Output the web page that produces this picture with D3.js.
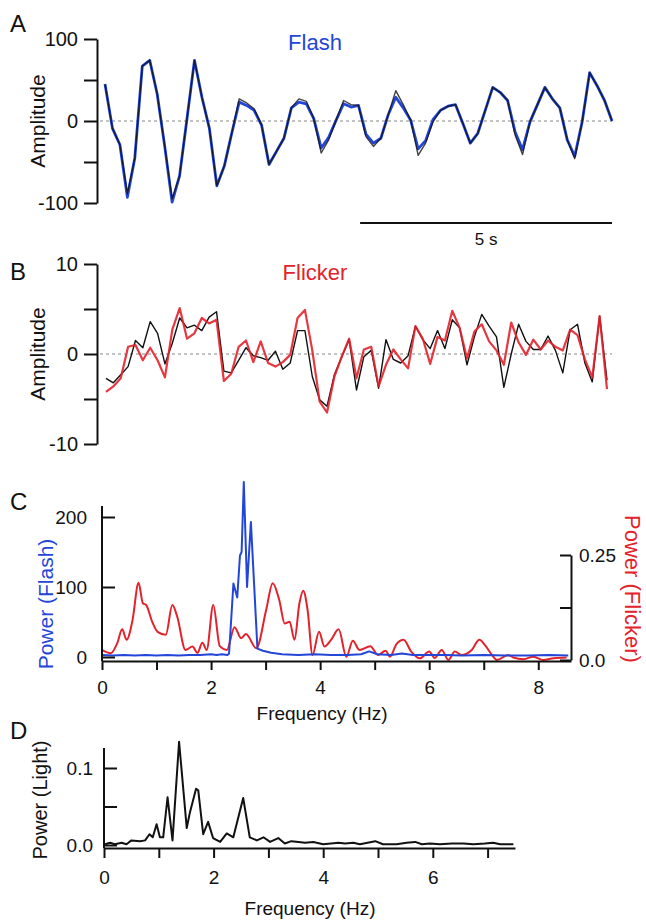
<!DOCTYPE html>
<html>
<head>
<meta charset="utf-8">
<script src="https://cdn.jsdelivr.net/npm/d3@7"></script>
<style>
  body { margin: 0; background: #fff; }
  svg text { font-family: Arial, "Liberation Sans", sans-serif; }
</style>
</head>
<body>
<div id="chart"></div>
<script>
const width = 646;
const height = 920;
const blue = "#2346d8";
const red = "#e3222b";
const ink = "#111";
const font = 'Arial, "Liberation Sans", sans-serif';

// A: flash response, one sample every 0.148 s
const sampleInterval = 0.148;
const flashBlue = [45, -9, -29, -93, -45, 67, 74, 33, -30, -99, -67, 3, 74, 29, -9, -79, -55, -15, 23, 19,
  13, -5, -53, -37, -21, 16, 23, 21, 3, -33, -20, 1, 21, 17, 19, -16, -27, -21, 8, 29,
  16, 1, -34, -24, 2, 13, 18, 20, -3, -27, -15, 13, 41, 35, 25, -13, -35, -1, 20, 41,
  27, 16, -23, -43, -1, 59, 43, 25, 0];
const flashBlack = [45, -9, -29, -89, -45, 67, 74, 33, -30, -95, -67, 3, 74, 29, -9, -79, -55, -15, 27, 22,
  15, -5, -53, -37, -21, 16, 27, 24, 3, -39, -23, 1, 25, 20, 19, -19, -31, -21, 8, 37,
  20, 1, -42, -27, -1, 13, 18, 20, -3, -27, -15, 13, 41, 35, 25, -17, -41, -1, 20, 41,
  27, 16, -23, -46, -1, 59, 43, 25, 0];

// B: flicker response
const flickerRed = [-4.2, -3.6, -2.7, 0.8, 1.0, -0.7, 0.7, -0.7, -2.6, 2.7, 5.1, 1.7, 2.3, 4.0, 3.4, 3.8, -3.0, -2.2, 0.8, 1.5,
  -0.9, 1.4, -1.0, -1.4, -0.9, -0.1, 4.0, 4.9, 0.4, -5.3, -6.5, -2.5, -0.3, 1.7, -2.7, 0.5, 0.8, -3.6, -1.2, 0.5,
  -0.6, -1.6, 3.1, 1.7, -1.1, 1.9, 1.5, 4.8, 2.9, -0.5, 2.5, 3.3, 1.4, 0.4, -1.2, 3.5, 1.3, -0.1, 1.6, 0.5,
  1.5, 0.8, 0.4, 2.7, 2.1, -0.6, -2.6, 4.2, -3.9];
const flickerBlack = [-2.7, -3.2, -2.3, -1.4, 1.5, 0.7, 3.6, 2.3, -1.1, 1.2, 4.0, 2.9, 3.2, 2.6, 4.1, 4.7, -1.9, -2.1, -0.7, 0.7,
  -0.2, -0.4, -0.7, 0.3, -1.7, -1.0, 2.6, 2.6, -2.5, -5.1, -5.8, -2.3, -0.3, 1.6, -4.0, -0.3, 0.4, -3.8, 1.6, -0.6,
  -1.0, -0.2, 3.1, 1.6, 0.6, 2.6, 0.6, 3.8, 2.9, -1.2, 1.9, 4.4, 3.1, 1.9, -3.7, 0.0, 3.3, 1.4, 0.5, 0.5,
  2.0, 0.4, -2.1, 2.7, 3.3, -1.0, -3.1, 4.2, -2.9];

// C: power spectra
const flashFreq = [0, 0.2, 0.4, 0.6, 0.8, 1.0, 1.2, 1.4, 1.6, 1.8, 2.0, 2.1, 2.2, 2.3, 2.33, 2.41, 2.48, 2.53, 2.56, 2.60,
  2.66, 2.73, 2.85, 2.95, 3.1, 3.3, 3.6, 3.9, 4.2, 4.5, 4.75, 4.9, 5.05, 5.3, 5.5, 5.7, 6.0, 6.3, 6.6, 7.0,
  7.4, 7.8, 8.2, 8.55];
const flashPower = [3, 2, 3, 2, 3, 2, 3, 2, 3, 3, 4, 3, 4, 3, 5, 105, 85, 145, 150, 250,
  100, 193, 12, 9, 6, 4, 3, 4, 3, 3, 4, 8, 4, 3, 5, 3, 3, 3, 2, 3,
  2, 2, 3, 2];
const flickerFreq = [0, 0.16, 0.28, 0.37, 0.45, 0.56, 0.67, 0.75, 0.81, 0.92, 1.02, 1.17, 1.29, 1.38, 1.53, 1.66, 1.75, 1.84, 1.92, 2.04,
  2.16, 2.29, 2.43, 2.55, 2.64, 2.83, 3.01, 3.13, 3.25, 3.35, 3.44, 3.53, 3.62, 3.69, 3.77, 3.86, 3.98, 4.08, 4.20, 4.34,
  4.48, 4.60, 4.72, 4.92, 5.06, 5.20, 5.28, 5.40, 5.53, 5.67, 5.83, 6.00, 6.10, 6.23, 6.35, 6.47, 6.59, 6.78, 6.92, 7.02,
  7.15, 7.24, 7.45, 7.54, 7.73, 7.91, 8.09, 8.28, 8.52];
const flickerPower = [0.024, 0.016, 0.040, 0.073, 0.048, 0.095, 0.184, 0.135, 0.131, 0.091, 0.067, 0.060, 0.131, 0.103, 0.024, 0.032, 0.017, 0.041, 0.024, 0.131,
  0.033, 0.024, 0.078, 0.052, 0.062, 0.028, 0.119, 0.183, 0.143, 0.087, 0.091, 0.048, 0.135, 0.165, 0.119, 0.012, 0.067, 0.032, 0.048, 0.073,
  0.008, 0.046, 0.024, 0.033, 0.012, 0.022, 0.008, 0.038, 0.048, 0.020, 0.004, 0.020, 0.005, 0.024, 0.000, 0.020, 0.012, 0.024, 0.048, 0.036,
  0.012, 0.000, 0.012, 0.006, 0.002, 0.008, 0.000, 0.004, 0.006];

// D: light power spectrum
const lightFreq = [0.02, 0.11, 0.2, 0.32, 0.41, 0.5, 0.66, 0.75, 0.83, 0.89, 0.96, 1.02, 1.08, 1.16, 1.25, 1.37, 1.51, 1.57, 1.68, 1.72,
  1.81, 1.90, 1.99, 2.12, 2.24, 2.36, 2.54, 2.66, 2.79, 2.91, 3.03, 3.18, 3.30, 3.42, 3.55, 3.67, 3.82, 4.0, 4.28, 4.40,
  4.55, 4.67, 4.95, 5.09, 5.34, 5.52, 5.68, 5.80, 5.95, 6.13, 6.35, 6.56, 6.74, 6.95, 7.1, 7.23, 7.47];
const lightPower = [0.001, 0.003, 0.001, 0.003, 0.001, 0.006, 0.005, 0.006, 0.014, 0.010, 0.027, 0.010, 0.010, 0.062, 0.006, 0.134, 0.022, 0.043, 0.073, 0.071,
  0.014, 0.030, 0.009, 0.004, 0.015, 0.010, 0.061, 0.010, 0.006, 0.010, 0.004, 0.009, 0.002, 0.005, 0.004, 0.003, 0.004, 0.001, 0.003, 0.002,
  0.003, 0.001, 0.005, 0.001, 0.001, 0.003, 0.004, 0.001, 0.002, 0.001, 0.002, 0.002, 0.001, 0.002, 0.003, 0.001, 0.001];

const svg = d3.select("#chart")
    .append("svg")
    .attr("width", width)
    .attr("height", height);

function styleAxis(g, size) {
    g.attr("font-size", size).attr("font-family", font);
    g.selectAll("line, path").attr("stroke", ink).attr("stroke-width", 2);
    g.selectAll("text").attr("fill", ink);
}

function addText(x, y, str, opts) {
    const t = svg.append("text")
        .attr("x", x).attr("y", y)
        .attr("font-size", opts.size || 20)
        .attr("fill", opts.color || ink)
        .attr("text-anchor", opts.anchor || "middle")
        .text(str);
    if (opts.rotate) {
        t.attr("x", 0).attr("y", 0)
            .attr("dominant-baseline", "central")
            .attr("transform", `translate(${x},${y}) rotate(${opts.rotate})`);
    }
    return t;
}

// ---------- Panel A ----------
const tEnd = (flashBlack.length - 1) * sampleInterval;
const xA = d3.scaleLinear().domain([0, tEnd]).range([105, 612]);
const yA = d3.scaleLinear().domain([-100, 100]).range([203, 39]);

svg.append("line")
    .attr("x1", 100).attr("x2", xA(tEnd))
    .attr("y1", yA(0)).attr("y2", yA(0))
    .attr("stroke", "#888").attr("stroke-width", 1.2).attr("stroke-dasharray", "3,3");

const lineA = d3.line().x((d, i) => xA(i * sampleInterval)).y(d => yA(d));
svg.append("path").datum(flashBlue).attr("d", lineA)
    .attr("fill", "none").attr("stroke", blue).attr("stroke-width", 2.8).attr("stroke-linejoin", "round");
svg.append("path").datum(flashBlack).attr("d", lineA)
    .attr("fill", "none").attr("stroke", ink).attr("stroke-width", 1.4).attr("stroke-opacity", 0.8).attr("stroke-linejoin", "round");

svg.append("g")
    .attr("transform", "translate(97,0)")
    .call(d3.axisLeft(yA).tickValues([-100, -50, 0, 50, 100])
        .tickFormat(d => d % 100 === 0 ? d : "").tickSize(13).tickSizeOuter(0).tickPadding(6))
    .call(g => styleAxis(g, 20));

// 5 s scale bar
svg.append("line")
    .attr("x1", xA(tEnd - 5)).attr("x2", xA(tEnd))
    .attr("y1", 223).attr("y2", 223)
    .attr("stroke", ink).attr("stroke-width", 2);
addText((xA(tEnd - 5) + xA(tEnd)) / 2, 245, "5 s", { size: 17 });

addText(37, 121, "Amplitude", { size: 21, rotate: -90 });
addText(315, 50, "Flash", { size: 22, color: blue });
addText(10, 32, "A", { size: 24, anchor: "start" });

// ---------- Panel B ----------
const xB = d3.scaleLinear().domain([0, tEnd]).range([106, 607]);
const yB = d3.scaleLinear().domain([-10, 10]).range([444, 264]);

svg.append("line")
    .attr("x1", 100).attr("x2", 612)
    .attr("y1", yB(0)).attr("y2", yB(0))
    .attr("stroke", "#888").attr("stroke-width", 1.2).attr("stroke-dasharray", "3,3");

const lineB = d3.line().x((d, i) => xB(i * sampleInterval)).y(d => yB(d));
svg.append("path").datum(flickerBlack).attr("d", lineB)
    .attr("fill", "none").attr("stroke", ink).attr("stroke-width", 1.4).attr("stroke-linejoin", "round");
svg.append("path").datum(flickerRed).attr("d", lineB)
    .attr("fill", "none").attr("stroke", red).attr("stroke-width", 2.2).attr("stroke-opacity", 0.9).attr("stroke-linejoin", "round");

svg.append("g")
    .attr("transform", "translate(97,0)")
    .call(d3.axisLeft(yB).tickValues([-10, -5, 0, 5, 10])
        .tickFormat(d => d % 10 === 0 ? d : "").tickSize(13).tickSizeOuter(0).tickPadding(6))
    .call(g => styleAxis(g, 20));

addText(37, 354, "Amplitude", { size: 21, rotate: -90 });
addText(315, 280, "Flicker", { size: 22, color: red });
addText(10, 280, "B", { size: 24, anchor: "start" });

// ---------- Panel C ----------
const xC = d3.scaleLinear().domain([0, 8.6]).range([102, 571]);
const yFlash = d3.scaleLinear().domain([0, 200]).range([657, 517]);
const yFlick = d3.scaleLinear().domain([0, 0.25]).range([660, 555]);
const axisYC = 661;

svg.append("path")
    .datum(flickerFreq.map((f, i) => [f, flickerPower[i]]))
    .attr("d", d3.line().x(d => xC(d[0])).y(d => yFlick(d[1])).curve(d3.curveMonotoneX))
    .attr("fill", "none").attr("stroke", red).attr("stroke-width", 2).attr("stroke-linejoin", "round");
svg.append("path")
    .datum(flashFreq.map((f, i) => [f, flashPower[i]]))
    .attr("d", d3.line().x(d => xC(d[0])).y(d => yFlash(d[1])))
    .attr("fill", "none").attr("stroke", blue).attr("stroke-width", 2).attr("stroke-linejoin", "round");

svg.append("g")
    .attr("transform", `translate(0,${axisYC})`)
    .call(d3.axisBottom(xC).tickValues(d3.range(0, 9))
        .tickFormat(d => d % 2 === 0 ? d : "").tickSize(9).tickSizeOuter(0).tickPadding(11))
    .call(g => styleAxis(g, 19));

svg.append("g")
    .attr("transform", "translate(102,0)")
    .call(d3.axisLeft(yFlash).tickValues([0, 100, 200]).tickSize(-13).tickPadding(15))
    .call(g => g.select(".domain").remove())
    .call(g => styleAxis(g, 19));
svg.append("line")
    .attr("x1", 102).attr("x2", 102)
    .attr("y1", axisYC).attr("y2", yFlash(200) - 11)
    .attr("stroke", ink).attr("stroke-width", 2);

svg.append("g")
    .attr("transform", "translate(571,0)")
    .call(d3.axisRight(yFlick).tickValues([0, 0.125, 0.25])
        .tickFormat(d => d === 0 ? "0.0" : d === 0.25 ? "0.25" : "").tickSize(-11).tickSizeOuter(0).tickPadding(8))
    .call(g => styleAxis(g, 19));

addText(322, 720, "Frequency (Hz)", { size: 19 });
addText(45, 604, "Power (Flash)", { size: 21, color: blue, rotate: -90 });
addText(632, 589, "Power (Flicker)", { size: 22, color: red, rotate: 90 });
addText(10, 510, "C", { size: 24, anchor: "start" });

// ---------- Panel D ----------
const xD = d3.scaleLinear().domain([0, 7.5]).range([104, 515]);
const yD = d3.scaleLinear().domain([0, 0.1]).range([845, 768]);
const axisYD = 848;

svg.append("path")
    .datum(lightFreq.map((f, i) => [f, lightPower[i]]))
    .attr("d", d3.line().x(d => xD(d[0])).y(d => yD(d[1])))
    .attr("fill", "none").attr("stroke", ink).attr("stroke-width", 2).attr("stroke-linejoin", "round");

svg.append("g")
    .attr("transform", `translate(0,${axisYD})`)
    .call(d3.axisBottom(xD).tickValues(d3.range(0, 8))
        .tickFormat(d => d % 2 === 0 ? d : "").tickSize(10).tickSizeOuter(0).tickPadding(13))
    .call(g => styleAxis(g, 19));

svg.append("g")
    .attr("transform", "translate(104,0)")
    .call(d3.axisLeft(yD).tickValues([0, 0.05, 0.1])
        .tickFormat(d => d === 0 ? "0.0" : d === 0.1 ? "0.1" : "").tickSize(-13).tickPadding(11))
    .call(g => g.select(".domain").remove())
    .call(g => styleAxis(g, 19));
svg.append("line")
    .attr("x1", 104).attr("x2", 104)
    .attr("y1", axisYD).attr("y2", yD(0.1) - 20)
    .attr("stroke", ink).attr("stroke-width", 2);

addText(310, 915, "Frequency (Hz)", { size: 19 });
addText(40, 800, "Power (Light)", { size: 20, rotate: -90 });
addText(10, 739, "D", { size: 24, anchor: "start" });
</script>
</body>
</html>
